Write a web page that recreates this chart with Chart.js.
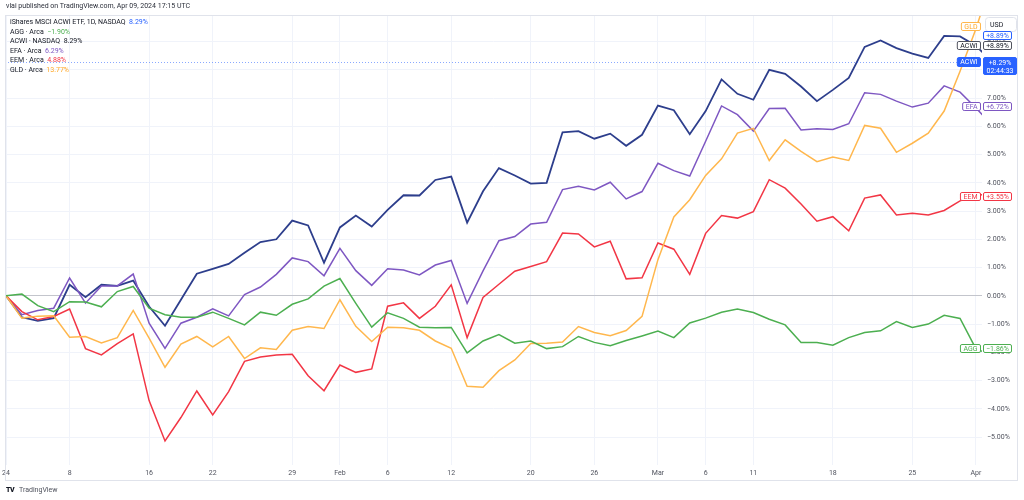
<!DOCTYPE html>
<html>
<head>
<meta charset="utf-8">
<script src="https://cdn.jsdelivr.net/npm/chart.js@4.4.1/dist/chart.umd.min.js"></script>
<style>
  html, body { margin: 0; padding: 0; background: #fff; }
  #wrap { position: relative; width: 1024px; height: 500px; overflow: hidden; font-family: Roboto, 'Noto Sans', sans-serif; }
  #c { position: absolute; left: 0; top: 0; }
  .txt { position: absolute; font-size: 7px; line-height: 9px; color: #131722; white-space: nowrap; }
</style>
</head>
<body>
<div id="wrap">
  <canvas id="c" width="1024" height="500"></canvas>
  <div class="txt" style="left:6px;top:2px;color:#2a2e39">vlai published on TradingView.com, Apr 09, 2024 17:15 UTC</div>
  <div id="legend"></div>
  <div class="txt" style="left:6px;top:486px;font-weight:900;letter-spacing:-0.5px">TV</div>
  <div class="txt" style="left:19px;top:486px;color:#50535e">TradingView</div>
</div>
<script>
// ---- dữ liệu: ngày giao dịch (MM-DD, 2024) ----
const dates = [
  '01-02','01-03','01-04','01-05','01-08','01-09','01-10','01-11','01-12','01-16','01-17','01-18','01-19','01-22','01-23','01-24','01-25','01-26','01-29','01-30','01-31',
  '02-01','02-02','02-05','02-06','02-07','02-08','02-09','02-12','02-13','02-14','02-15','02-16','02-20','02-21','02-22','02-23','02-26','02-27','02-28','02-29',
  '03-01','03-04','03-05','03-06','03-07','03-08','03-11','03-12','03-13','03-14','03-15','03-18','03-19','03-20','03-21','03-22','03-25','03-26','03-27','03-28',
  '04-01','04-02'
];

// % thay đổi so với ngày đầu
const acwi = [0,-0.76,-0.89,-0.79,0.39,-0.05,0.39,0.35,0.54,-0.38,-1.06,-0.14,0.78,0.95,1.13,1.52,1.90,2.00,2.66,2.49,1.17,
  2.42,2.84,2.45,3.04,3.56,3.55,4.10,4.22,2.59,3.70,4.52,4.26,3.97,4.00,5.79,5.83,5.56,5.74,5.31,5.70,
  6.73,6.57,5.72,6.54,7.66,7.15,6.94,8.00,7.86,7.41,6.89,7.29,7.71,8.81,9.04,8.77,8.57,8.42,9.20,9.18,
  8.85,8.29];
const efa = [0,-0.67,-0.52,-0.44,0.63,-0.26,0.35,0.35,0.77,-0.97,-1.86,-0.97,-0.76,-0.46,-0.71,0.04,0.31,0.76,1.34,1.21,0.71,
  1.68,0.89,0.37,0.96,0.91,0.74,1.09,1.25,-0.27,0.88,1.95,2.10,2.54,2.60,3.76,3.88,3.75,4.02,3.43,3.69,
  4.69,4.43,4.24,5.47,6.72,6.41,5.83,6.63,6.64,5.87,5.91,5.89,6.09,7.19,7.13,6.89,6.68,6.82,7.43,7.21,
  6.65,6.05];
const eem = [0,-0.56,-0.85,-0.73,-0.47,-1.87,-2.09,-1.69,-1.35,-3.71,-5.14,-4.31,-3.37,-4.22,-3.39,-2.32,-2.17,-2.10,-2.07,-2.83,-3.36,
  -2.45,-2.71,-2.59,-0.37,-0.25,-0.80,-0.37,0.39,-1.48,-0.06,0.41,0.87,1.04,1.21,2.22,2.19,1.73,1.93,0.60,0.64,
  1.87,1.65,0.76,2.21,2.84,2.75,2.98,4.11,3.81,3.25,2.64,2.80,2.30,3.46,3.57,2.86,2.92,2.86,3.02,3.36,
  3.55,3.62];
const agg = [0,0.06,-0.35,-0.56,-0.21,-0.22,-0.39,0.15,0.33,-0.44,-0.67,-0.76,-0.76,-0.58,-0.80,-1.03,-0.58,-0.69,-0.30,-0.11,0.34,
  0.61,-0.27,-1.11,-0.60,-0.80,-1.11,-1.13,-1.12,-2.02,-1.60,-1.37,-1.68,-1.60,-1.87,-1.80,-1.44,-1.65,-1.77,-1.58,-1.42,
  -1.25,-1.48,-0.96,-0.79,-0.58,-0.47,-0.59,-0.83,-1.03,-1.65,-1.65,-1.75,-1.48,-1.30,-1.24,-0.91,-1.12,-1.00,-0.69,-0.80,
  -1.88,-2.10];
const gld = [0,-0.79,-0.72,-0.71,-1.47,-1.44,-1.67,-1.48,-0.52,-1.50,-2.53,-1.71,-1.44,-1.81,-1.44,-2.22,-1.84,-1.90,-1.22,-1.09,-1.16,
  -0.14,-1.08,-1.62,-1.11,-1.13,-1.22,-1.60,-1.86,-3.20,-3.24,-2.65,-2.27,-1.69,-1.68,-1.64,-1.09,-1.30,-1.41,-1.23,-0.73,
  1.28,2.79,3.40,4.26,4.85,5.76,5.93,4.79,5.52,5.11,4.75,4.91,4.79,6.03,5.93,5.08,5.40,5.76,6.54,7.95,
  9.45,11.2];

// nhãn trục thời gian
const tickDates  = ['01-02','01-08','01-16','01-22','01-29','02-01','02-06','02-12','02-20','02-26','03-01','03-06','03-11','03-18','03-25','04-01'];
const tickLabels = ['24','8','16','22','29','Feb','6','12','20','26','Mar','6','11','18','25','Apr'];
const yTicks = [-5,-4,-3,-2,-1,0,1,2,3,4,5,6,7,8,9];

// chú thích góc trái
const legendRows = [
  ['iShares MSCI ACWI ETF, 1D, NASDAQ', '8.29%', '#2962ff'],
  ['AGG · Arca', '−1.90%', '#4caf50'],
  ['ACWI · NASDAQ', '8.29%', '#131722'],
  ['EFA · Arca', '6.29%', '#7e57c2'],
  ['EEM · Arca', '4.88%', '#f23645'],
  ['GLD · Arca', '13.77%', '#ffa726']
];

// nhãn bên phải
const tags = [
  { name: 'EFA',  value: 6.72,  text: '+6.72%', color: '#7e57c2' },
  { name: 'EEM',  value: 3.55,  text: '+3.55%', color: '#f23645' },
  { name: 'AGG',  value: -1.86, text: '−1.86%', color: '#4caf50' }
];

const colors = { acwi: '#2d3e8c', efa: '#7e57c2', eem: '#f23645', agg: '#4caf50', gld: '#ffb74d' };

// ---- legend HTML ----
const legendEl = document.getElementById('legend');
legendRows.forEach((r, k) => {
  const d = document.createElement('div');
  d.className = 'txt';
  d.style.left = '10px';
  d.style.top = (18 + k * 9.6) + 'px';
  d.innerHTML = `${r[0]}&nbsp; <span style="color:${r[2]}">${r[1]}</span>`;
  legendEl.appendChild(d);
});

const pts = arr => arr.map((v, i) => ({ x: i, y: v }));
const tickIdx = tickDates.map(d => dates.indexOf(d));
const fmtPct = v => (v < 0 ? '−' : '') + Math.abs(v).toFixed(2) + '%';

function roundBox(ctx, x, y, w, h, r) {
  ctx.beginPath();
  ctx.roundRect(x, y, w, h, r);
}

function drawTag(ctx, x, cy, w, h, text, stroke, fill, color, alignRight) {
  const bx = alignRight ? x - w : x;
  roundBox(ctx, bx + 0.5, Math.round(cy - h / 2) + 0.5, w, h, 1.5);
  ctx.fillStyle = fill;
  ctx.fill();
  ctx.strokeStyle = stroke;
  ctx.lineWidth = 1;
  ctx.stroke();
  ctx.fillStyle = color;
  ctx.textAlign = 'center';
  ctx.textBaseline = 'middle';
  ctx.fillText(text, bx + w / 2 + 0.5, Math.round(cy - h / 2) + h / 2 + 1);
}

const overlay = {
  id: 'overlay',
  afterDatasetsDraw(chart) {
    const { ctx, chartArea: a, scales: { y } } = chart;
    // đường giá hiện tại (dashed)
    const py = Math.round(y.getPixelForValue(acwi[acwi.length - 1])) + 0.5;
    ctx.save();
    ctx.strokeStyle = 'rgba(41, 98, 255, 0.55)';
    ctx.lineWidth = 1;
    ctx.setLineDash([1, 2]);
    ctx.beginPath();
    ctx.moveTo(a.left, py);
    ctx.lineTo(a.right, py);
    ctx.stroke();
    ctx.restore();
  },
  afterDraw(chart) {
    const { ctx, chartArea: a, scales: { y } } = chart;
    ctx.save();
    ctx.font = '7px Roboto, sans-serif';
    const nameW = t => ctx.measureText(t).width + 6;
    const R = a.right - 2, L = a.right + 1;

    // GLD (vượt khỏi khung, kẹp trên cùng)
    drawTag(ctx, R, a.top + 11, nameW('GLD'), 8, 'GLD', '#ffb74d', '#fff', '#ffa726', true);

    // USD
    roundBox(ctx, 985.5, 17.5, 31, 14, 3);
    ctx.fillStyle = '#fff'; ctx.fill();
    ctx.strokeStyle = '#e0e3eb'; ctx.stroke();
    ctx.fillStyle = '#131722'; ctx.textAlign = 'left'; ctx.textBaseline = 'middle';
    ctx.fillText('USD', 990, 25);

    // ACWI
    const yA = y.getPixelForValue(8.89);
    drawTag(ctx, L, yA - 10, 28, 8, '+8.89%', '#2962ff', '#fff', '#2962ff', false);
    drawTag(ctx, R, yA, nameW('ACWI'), 8, 'ACWI', '#50535e', '#fff', '#131722', true);
    drawTag(ctx, L, yA, 28, 8, '+8.89%', '#50535e', '#fff', '#131722', false);

    const yM = y.getPixelForValue(acwi[acwi.length - 1]);
    drawTag(ctx, R, yM, nameW('ACWI'), 9, 'ACWI', '#2962ff', '#2962ff', '#fff', true);
    roundBox(ctx, L + 0.5, Math.round(yM - 4.5) + 0.5, 33, 17, 1.5);
    ctx.fillStyle = '#2962ff'; ctx.fill();
    ctx.strokeStyle = '#2962ff'; ctx.stroke();
    ctx.fillStyle = '#fff'; ctx.textAlign = 'center'; ctx.textBaseline = 'middle';
    ctx.fillText('+8.29%', L + 17, Math.round(yM) + 1);
    ctx.fillText('02:44:33', L + 17, Math.round(yM) + 9);

    tags.forEach(t => {
      const ty = y.getPixelForValue(t.value);
      drawTag(ctx, R, ty, nameW(t.name), 8, t.name, t.color, '#fff', t.color, true);
      drawTag(ctx, L, ty, 28, 8, t.text, t.color, '#fff', t.color, false);
    });

    // khung ngoài
    ctx.strokeStyle = '#e0e3eb';
    ctx.lineWidth = 1;
    ctx.strokeRect(5.5, 15.5, 1012, 465);
    ctx.restore();
  }
};

new Chart(document.getElementById('c'), {
  type: 'line',
  data: {
    datasets: [
      { label: 'AGG', data: pts(agg), borderColor: colors.agg },
      { label: 'GLD', data: pts(gld), borderColor: colors.gld },
      { label: 'EEM', data: pts(eem), borderColor: colors.eem },
      { label: 'EFA', data: pts(efa), borderColor: colors.efa },
      { label: 'ACWI', data: pts(acwi), borderColor: colors.acwi, borderWidth: 1.8 }
    ]
  },
  options: {
    responsive: false,
    animation: false,
    devicePixelRatio: 1,
    layout: { padding: { left: 5, right: 6, top: 15, bottom: 20 } },
    elements: {
      line: { borderWidth: 1.5, tension: 0 },
      point: { radius: 0, hoverRadius: 0 }
    },
    plugins: { legend: { display: false }, tooltip: { enabled: false } },
    scales: {
      x: {
        type: 'linear',
        min: -0.063,
        max: 61.38,
        afterBuildTicks: s => { s.ticks = tickIdx.map(v => ({ value: v })); },
        afterFit: s => { s.height = 15; s.paddingLeft = 0; s.paddingRight = 0; },
        ticks: {
          autoSkip: false,
          maxRotation: 0,
          padding: 4,
          color: '#50535e',
          font: { family: 'Roboto', size: 7 },
          callback: v => tickLabels[tickIdx.indexOf(v)]
        },
        grid: { color: '#f0f3fa', drawTicks: false },
        border: { display: false }
      },
      y: {
        position: 'right',
        min: -5.99,
        max: 9.94,
        afterBuildTicks: s => { s.ticks = yTicks.map(v => ({ value: v })); },
        afterFit: s => { s.width = 36; s.paddingTop = 0; s.paddingBottom = 0; },
        ticks: {
          padding: 5,
          color: '#50535e',
          font: { family: 'Roboto', size: 7 },
          callback: v => fmtPct(v)
        },
        grid: {
          color: c => (c.tick && c.tick.value === 0 ? '#c3c5cc' : '#f0f3fa'),
          drawTicks: false
        },
        border: { display: false }
      }
    }
  },
  plugins: [overlay]
});
</script>
</body>
</html>
